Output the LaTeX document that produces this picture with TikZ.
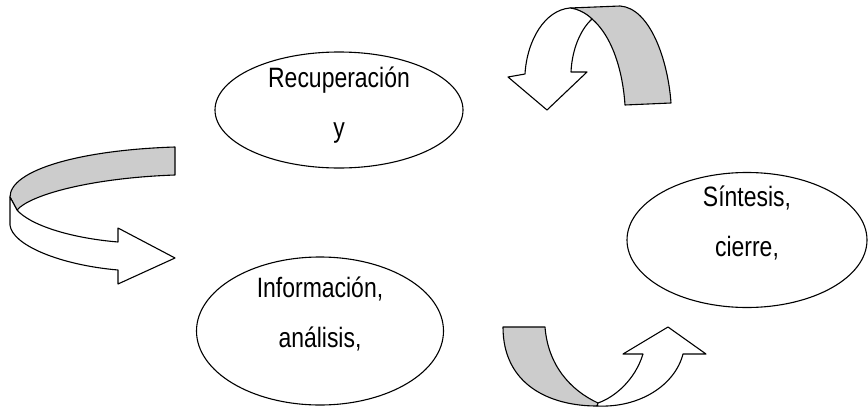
\documentclass[tikz,border=0pt]{standalone}
\usepackage{fontspec}
\newfontfamily\narrowfont[FakeStretch=0.82]{Liberation Sans}
\usepackage{tikz}
\usetikzlibrary{shapes.geometric}
\tikzset{
     bubble/.style={
           ellipse,
           draw=black, line width=1.1pt,
           inner sep=0pt,
           },
     bubbletext/.style={
           align=center,
           inner sep=0pt,
           font=\narrowfont\fontsize{28}{50}\selectfont,
           },
     band/.style={
           fill=black!20,
           draw=black, line width=1.1pt, line join=round,
           },
     front/.style={
           fill=white,
           draw=black, line width=1.1pt, line join=round,
           },
}

\begin{document}
\begin{tikzpicture}[x=1pt, y=-1pt]
	\useasboundingbox (0,0) rectangle (868,407);

	% ellipses
	\node[bubble, minimum width=248pt, minimum height=116pt] (recup) at (339,110) {};
	\node[bubble, minimum width=247pt, minimum height=148pt] (info) at (320,331) {};
	\node[bubble, minimum width=240pt, minimum height=135pt] (sintesis) at (747,240) {};

	\node[bubbletext] (recuptext) at ([yshift=5pt]recup.center) {Recuperación\\y};
	\node[bubbletext] (infotext) at ([yshift=17pt]info.center) {Información,\\análisis,};
	\node[bubbletext] (sintesistext) at ([yshift=17pt]sintesis.center) {Síntesis,\\cierre,};

	% curved arrow, top right
	\path[band] (570,8) -- (620,6) .. controls (650,8) and (668,60) .. (671,103)
		-- (625,105) .. controls (622,60) and (605,15) .. (570,8) -- cycle;
	\path[front] (570,8) .. controls (545,10) and (527,40) .. (525,74)
		-- (508,77) -- (547,110) -- (587,72) -- (571,72)
		.. controls (572,50) and (580,30) .. (592,19)
		.. controls (586,13) and (578,9) .. (570,8) -- cycle;

	% curved arrow, left
	\path[band] (175,147) .. controls (80,150) and (10,170) .. (10,197)
		-- (17,210) .. controls (30,195) and (90,178) .. (175,175) -- cycle;
	\path[front] (10,197) -- (10,225) .. controls (12,245) and (60,265) .. (118,270)
		-- (118,284) -- (175,258) -- (118,228) -- (118,242)
		.. controls (70,238) and (30,225) .. (17,210) -- cycle;

	% curved arrow, bottom
	\path[band] (503,327) -- (545,327) .. controls (548,365) and (570,390) .. (598,403)
		-- (597,406) .. controls (550,406) and (503,385) .. (503,327) -- cycle;
	\path[front] (597,406) .. controls (640,408) and (675,385) .. (683,354)
		-- (706,354) -- (668,327) -- (623,354) -- (643,354)
		.. controls (635,380) and (615,397) .. (598,403) -- cycle;
\end{tikzpicture}
\end{document}
